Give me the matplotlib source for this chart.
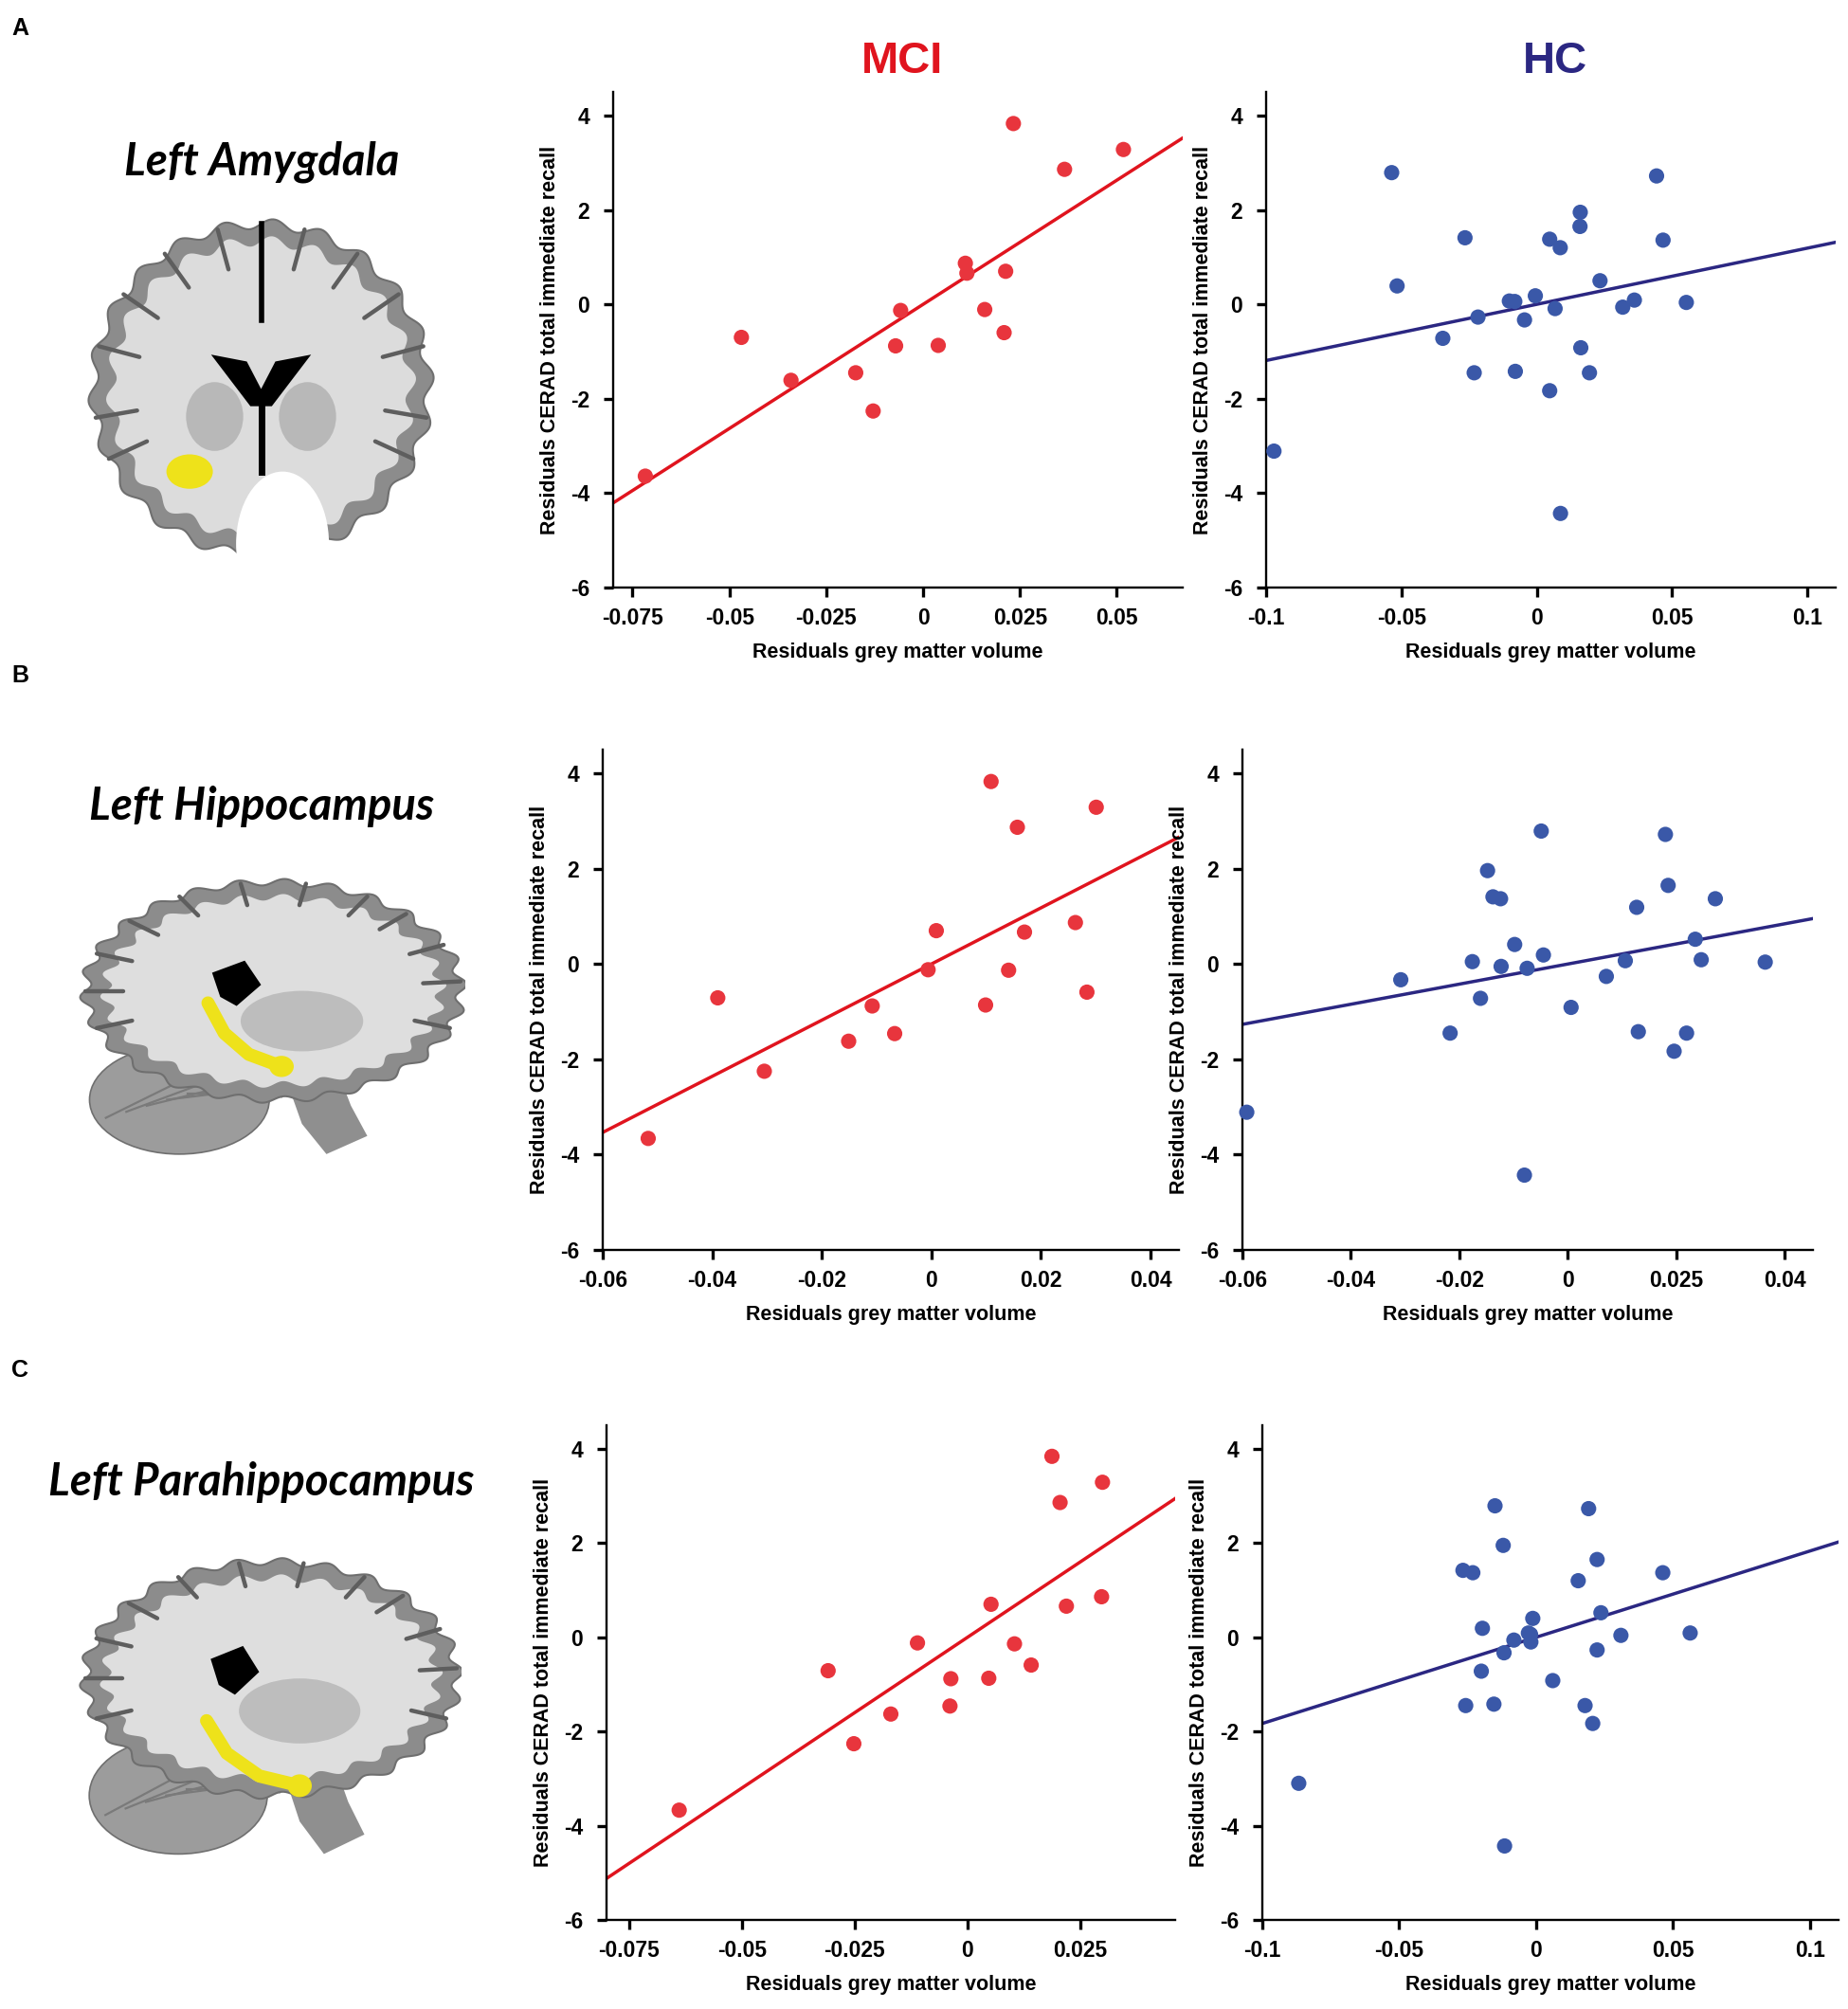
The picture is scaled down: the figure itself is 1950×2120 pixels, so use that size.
import numpy as np
import matplotlib
matplotlib.use("Agg")
import matplotlib.pyplot as plt
from matplotlib.patches import Ellipse, Polygon

plt.rcParams['font.family'] = ['Liberation Sans', 'DejaVu Sans']

W, H = 1950, 2120

# ---------------- data ----------------
memory_label = "Residuals CERAD total immediate recall"
volume_label = "Residuals grey matter volume"
groups = ["MCI", "HC"]
regions = ["Left Amygdala", "Left Hippocampus", "Left Parahippocampus"]
panel_letters = ["A", "B", "C"]

# A: Left Amygdala
amy_mci_x = [-0.0717, -0.0469, -0.0341, -0.0174, -0.0129, -0.0071, -0.0058, 0.0039,
             0.0109, 0.0113, 0.0159, 0.0213, 0.0209, 0.0233, 0.0365, 0.0517]
amy_mci_y = [-3.64, -0.70, -1.61, -1.45, -2.26, -0.88, -0.13, -0.87,
             0.87, 0.66, -0.11, 0.70, -0.60, 3.83, 2.86, 3.28]
amy_hc_x = [-0.0536, -0.0516, -0.0347, -0.0265, -0.0231, -0.0217, -0.0101, -0.0081, -0.0079,
            -0.0045, -0.0005, 0.0048, 0.0048, 0.0068, 0.0087, 0.0088, 0.0161, 0.0160,
            0.0163, 0.0195, 0.0234, 0.0318, 0.0361, 0.0443, 0.0467, 0.0553, -0.0971]
amy_hc_y = [2.79, 0.39, -0.72, 1.41, -1.45, -0.27, 0.07, 0.06, -1.42,
            -0.33, 0.18, 1.38, -1.83, -0.09, 1.20, -4.43, 1.95, 1.65,
            -0.92, -1.45, 0.50, -0.06, 0.09, 2.72, 1.36, 0.04, -3.11]

# B: Left Hippocampus
hip_mci_x = [-0.0517, -0.0390, -0.0305, -0.0151, -0.0108, -0.0067, -0.0006, 0.0009,
             0.0099, 0.0109, 0.0141, 0.0157, 0.0170, 0.0263, 0.0284, 0.0301]
hip_mci_y = [-3.66, -0.71, -2.25, -1.62, -0.88, -1.46, -0.12, 0.70,
             -0.86, 3.83, -0.13, 2.87, 0.67, 0.87, -0.59, 3.29]
hip_hc_x = [-0.0592, -0.0308, -0.0217, -0.0176, -0.0161, -0.0148, -0.0138, -0.0124, -0.0123,
            -0.0098, -0.0080, -0.0075, -0.0049, -0.0045, 0.0006, 0.0071, 0.0106, 0.0127,
            0.0130, 0.0180, 0.0185, 0.0196, 0.0219, 0.0235, 0.0246, 0.0272, 0.0364]
hip_hc_y = [-3.11, -0.33, -1.45, 0.05, -0.72, 1.96, 1.41, 1.37, -0.05,
            0.41, -4.43, -0.09, 2.79, 0.19, -0.91, -0.26, 0.07, 1.19,
            -1.42, 2.72, 1.65, -1.83, -1.45, 0.52, 0.09, 1.37, 0.04]

# C: Left Parahippocampus
par_mci_x = [-0.0639, -0.0309, -0.0252, -0.0170, -0.0111, -0.0039, -0.0037, 0.0047,
             0.0052, 0.0104, 0.0141, 0.0187, 0.0205, 0.0219, 0.0297, 0.0299]
par_mci_y = [-3.67, -0.71, -2.26, -1.63, -0.12, -1.46, -0.88, -0.87,
             0.70, -0.14, -0.59, 3.84, 2.86, 0.66, 0.86, 3.29]
par_hc_x = [-0.0867, -0.0267, -0.0231, -0.0257, -0.0196, -0.0200, -0.0154, -0.0150, -0.0120,
            -0.0117, -0.0115, -0.0081, -0.0028, -0.0020, -0.0019, -0.0012, 0.0061, 0.0154,
            0.0179, 0.0192, 0.0207, 0.0223, 0.0223, 0.0237, 0.0310, 0.0463, 0.0563]
par_hc_y = [-3.10, 1.42, 1.37, -1.45, 0.19, -0.72, -1.42, 2.79, 1.95,
            -0.33, -4.43, -0.06, 0.09, 0.06, -0.10, 0.40, -0.92, 1.20,
            -1.45, 2.73, -1.83, 1.65, -0.27, 0.52, 0.04, 1.37, 0.09]

# fitted regression slopes (intercept ~ 0, residuals)
fit_slopes = {("A", "MCI"): 52.6, ("A", "HC"): 11.9,
              ("B", "MCI"): 58.9, ("B", "HC"): 21.1,
              ("C", "MCI"): 64.0, ("C", "HC"): 18.3}
fit_intercepts = {k: 0.0 for k in fit_slopes}

# x axis ranges and tick labels
xlims = {("A", "MCI"): (-0.08, 0.067), ("A", "HC"): (-0.1, 0.1105),
         ("B", "MCI"): (-0.06, 0.0452), ("B", "HC"): (-0.06, 0.0452),
         ("C", "MCI"): (-0.08, 0.046), ("C", "HC"): (-0.1, 0.1105)}
xticks = {("A", "MCI"): [-0.075, -0.05, -0.025, 0, 0.025, 0.05],
          ("A", "HC"): [-0.1, -0.05, 0, 0.05, 0.1],
          ("B", "MCI"): [-0.06, -0.04, -0.02, 0, 0.02, 0.04],
          ("B", "HC"): [-0.06, -0.04, -0.02, 0, 0.02, 0.04],
          ("C", "MCI"): [-0.075, -0.05, -0.025, 0, 0.025],
          ("C", "HC"): [-0.1, -0.05, 0, 0.05, 0.1]}
xticklabels = {("A", "MCI"): ["-0.075", "-0.05", "-0.025", "0", "0.025", "0.05"],
               ("A", "HC"): ["-0.1", "-0.05", "0", "0.05", "0.1"],
               ("B", "MCI"): ["-0.06", "-0.04", "-0.02", "0", "0.02", "0.04"],
               ("B", "HC"): ["-0.06", "-0.04", "-0.02", "0", "0.025", "0.04"],
               ("C", "MCI"): ["-0.075", "-0.05", "-0.025", "0", "0.025"],
               ("C", "HC"): ["-0.1", "-0.05", "0", "0.05", "0.1"]}
yticks = [-6, -4, -2, 0, 2, 4]
yticklabels = ["-6", "-4", "-2", "0", "2", "4"]

series = {("A", "MCI"): (amy_mci_x, amy_mci_y), ("A", "HC"): (amy_hc_x, amy_hc_y),
          ("B", "MCI"): (hip_mci_x, hip_mci_y), ("B", "HC"): (hip_hc_x, hip_hc_y),
          ("C", "MCI"): (par_mci_x, par_mci_y), ("C", "HC"): (par_hc_x, par_hc_y)}

# ---------------- styling / layout ----------------
dot_color = {"MCI": "#E8353D", "HC": "#3A58A8"}
line_color = {"MCI": "#E0141E", "HC": "#2B2782"}
title_color = {"MCI": "#E0141E", "HC": "#2B2782"}

axes_px = {("A", "MCI"): (647, 1248, 97, 620), ("A", "HC"): (1336, 1937, 97, 620),
           ("B", "MCI"): (636, 1244, 791, 1319), ("B", "HC"): (1311, 1913, 791, 1319),
           ("C", "MCI"): (640, 1240, 1504, 2026), ("C", "HC"): (1332, 1940, 1504, 2026)}
brain_px = {"A": (87, 464, 229, 592), "B": (60, 491, 918, 1237), "C": (60, 487, 1634, 1977)}
letter_px = {"A": (12, 30), "B": (12, 713), "C": (12, 1446)}
region_px = {"A": (276, 171), "B": (276, 851), "C": (276, 1564)}


def rect(l, r, t, b):
    return [l / W, 1 - b / H, (r - l) / W, (b - t) / H]


fig = plt.figure(figsize=(W / 100, H / 100), dpi=100)
fig.patch.set_facecolor("white")

for (p, g), (l, r, t, b) in axes_px.items():
    ax = fig.add_axes(rect(l, r, t, b))
    xs, ys = series[(p, g)]
    x0, x1 = xlims[(p, g)]
    ax.set_xlim(x0, x1)
    ax.set_ylim(-6, 4.5)
    xl = np.array([x0, x1])
    ax.plot(xl, fit_intercepts[(p, g)] + fit_slopes[(p, g)] * xl,
            color=line_color[g], lw=2.5, zorder=2, clip_on=True)
    ax.scatter(xs, ys, s=135, color=dot_color[g], edgecolors="none", zorder=3, clip_on=False)
    for s in ["top", "right"]:
        ax.spines[s].set_visible(False)
    for s in ["left", "bottom"]:
        ax.spines[s].set_linewidth(1.7)
    ax.set_xticks(xticks[(p, g)])
    ax.set_xticklabels(xticklabels[(p, g)])
    ax.set_yticks(yticks)
    ax.set_yticklabels(yticklabels)
    ax.tick_params(direction="out", length=7, width=2.4, labelsize=16.5)
    ax.tick_params(axis="x", pad=8)
    ax.tick_params(axis="y", pad=11)
    for lab in ax.get_xticklabels() + ax.get_yticklabels():
        lab.set_fontweight("bold")
    ax.set_xlabel(volume_label, fontsize=15.5, fontweight="bold", labelpad=10)
    ax.set_ylabel(memory_label, fontsize=15.5, fontweight="bold", labelpad=8)
    ax.set_facecolor("none")

# group titles
fig.text(952 / W, 1 - 65 / H, groups[0], color=title_color["MCI"], fontsize=34,
         fontweight="bold", ha="center", va="center")
fig.text(1641 / W, 1 - 65 / H, groups[1], color=title_color["HC"], fontsize=34,
         fontweight="bold", ha="center", va="center")

for i, p in enumerate(panel_letters):
    lx, ly = letter_px[p]
    fig.text(lx / W, 1 - ly / H, p, fontsize=18, fontweight="bold", ha="left", va="center")
    rx, ry = region_px[p]
    fig.text(rx / W, 1 - ry / H, regions[i], fontsize=34, fontweight="bold", style="italic",
             family=["Lato", "DejaVu Sans"], ha="center", va="center")


# ---------------- stylised brain illustrations ----------------
def wavy(cx, cy, rx, ry, n=16, amp=0.035, npts=600, t0=0.0, t1=2 * np.pi):
    t = np.linspace(t0, t1, npts)
    rr = 1 + amp * np.sin(n * t)
    return np.column_stack([cx + rx * rr * np.cos(t), cy + ry * rr * np.sin(t)])


def sulci(ax, cx, cy, rx, ry, angles, depth=0.22, color="#5e5e5e", lw=3.2):
    for a in angles:
        a = np.deg2rad(a)
        r0, r1 = 1.0, 1.0 - depth
        ax.plot([cx + rx * r0 * np.cos(a), cx + rx * r1 * np.cos(a)],
                [cy + ry * r0 * np.sin(a), cy + ry * r1 * np.sin(a)],
                color=color, lw=lw, solid_capstyle="round", zorder=3)


def brain_axes(p):
    l, r, t, b = brain_px[p]
    ax = fig.add_axes(rect(l, r, t, b))
    ax.set_xlim(0, 1)
    ax.set_ylim(0, 1)
    ax.axis("off")
    return ax


# A: coronal slice
ax = brain_axes("A")
ax.add_patch(Polygon(wavy(0.5, 0.5, 0.47, 0.48, n=22, amp=0.03), closed=True,
                     facecolor="#8c8c8c", edgecolor="#6f6f6f", lw=1.5, zorder=1))
ax.add_patch(Polygon(wavy(0.5, 0.5, 0.42, 0.43, n=22, amp=0.035), closed=True,
                     facecolor="#dcdcdc", edgecolor="none", zorder=2))
sulci(ax, 0.5, 0.5, 0.47, 0.48, [15, 35, 55, 75, 105, 125, 145, 165, 190, 205, 335, 350], depth=0.25)
ax.add_patch(Ellipse((0.37, 0.42), 0.16, 0.2, facecolor="#b8b8b8", edgecolor="none", zorder=3))
ax.add_patch(Ellipse((0.63, 0.42), 0.16, 0.2, facecolor="#b8b8b8", edgecolor="none", zorder=3))
ax.add_patch(Polygon([[0.36, 0.6], [0.46, 0.58], [0.5, 0.5], [0.54, 0.58], [0.64, 0.6],
                      [0.53, 0.45], [0.47, 0.45]], closed=True, facecolor="black", zorder=4))
ax.plot([0.5, 0.5], [0.98, 0.7], color="black", lw=4, zorder=4)
ax.plot([0.5, 0.5], [0.45, 0.26], color="black", lw=5, zorder=4)
ax.add_patch(Ellipse((0.56, 0.05), 0.26, 0.42, facecolor="white", edgecolor="none", zorder=5))
ax.add_patch(Ellipse((0.3, 0.26), 0.13, 0.1, facecolor="#EEE21A", edgecolor="none", zorder=6))

# B, C: sagittal slices
for p, pts in [("B", [[0.37, 0.56], [0.41, 0.46], [0.47, 0.39], [0.55, 0.35]]),
               ("C", [[0.37, 0.47], [0.42, 0.37], [0.5, 0.3], [0.6, 0.27]])]:
    ax = brain_axes(p)
    ax.add_patch(Ellipse((0.3, 0.24), 0.44, 0.36, facecolor="#9c9c9c", edgecolor="#6f6f6f", lw=1.2, zorder=1))
    for k in range(6):
        ax.plot([0.12 + 0.05 * k, 0.3 + 0.05 * k], [0.18 + 0.02 * k, 0.3 - 0.01 * k],
                color="#7a7a7a", lw=1.6, zorder=1.5)
    ax.add_patch(Polygon([[0.55, 0.35], [0.68, 0.36], [0.72, 0.22], [0.76, 0.12], [0.66, 0.06],
                          [0.6, 0.16]], closed=True, facecolor="#8f8f8f", edgecolor="none", zorder=1))
    ax.add_patch(Polygon(wavy(0.53, 0.6, 0.46, 0.36, n=26, amp=0.03), closed=True,
                         facecolor="#8c8c8c", edgecolor="#6f6f6f", lw=1.5, zorder=2))
    ax.add_patch(Polygon(wavy(0.53, 0.6, 0.41, 0.31, n=26, amp=0.035), closed=True,
                         facecolor="#dedede", edgecolor="none", zorder=2.5))
    sulci(ax, 0.53, 0.6, 0.46, 0.36, [5, 25, 45, 60, 80, 100, 120, 140, 160, 180, 200, 340], depth=0.2)
    ax.add_patch(Ellipse((0.6, 0.5), 0.3, 0.2, facecolor="#bdbdbd", edgecolor="none", zorder=3))
    ax.add_patch(Polygon([[0.38, 0.66], [0.46, 0.7], [0.5, 0.62], [0.44, 0.55], [0.4, 0.58]],
                         closed=True, facecolor="black", edgecolor="none", zorder=4))
    pts = np.array(pts)
    ax.plot(pts[:, 0], pts[:, 1], color="#EEE21A", lw=10, solid_capstyle="round", zorder=6)
    ax.add_patch(Ellipse(pts[-1], 0.06, 0.07, facecolor="#EEE21A", edgecolor="none", zorder=6))

fig.savefig("out.png", dpi=100, facecolor="white")
